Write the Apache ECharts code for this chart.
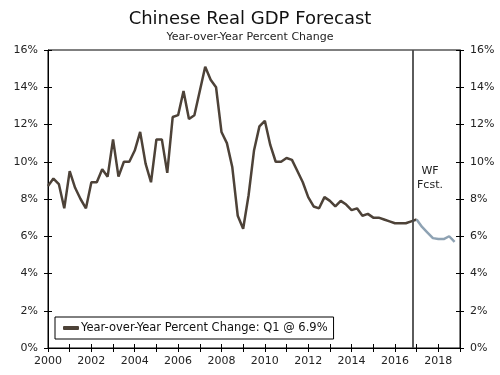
<!DOCTYPE html>
<html>
<head>
<meta charset="utf-8">
<script src="https://cdn.jsdelivr.net/npm/echarts@6/dist/echarts.min.js"></script>
<style>
	html, body { margin: 0; padding: 0; background: #fff; }
	#chart { width: 500px; height: 375px; }
</style>
</head>
<body>
<div id="chart"></div>
<script>
// quarterly yoy % change, 2000Q1 .. 2017Q1
var actualValues = [
	8.7, 9.1, 8.8, 7.5,
	9.5, 8.6, 8.0, 7.5,
	8.9, 8.9, 9.6, 9.2,
	11.2, 9.2, 10.0, 10.0,
	10.6, 11.6, 9.9, 8.9,
	11.2, 11.2, 9.4, 12.4,
	12.5, 13.8, 12.3, 12.5,
	13.8, 15.1, 14.4, 14.0,
	11.6, 11.0, 9.7, 7.1,
	6.4, 8.2, 10.6, 11.9,
	12.2, 10.9, 10.0, 10.0,
	10.2, 10.1, 9.5, 8.9,
	8.1, 7.6, 7.5, 8.1,
	7.9, 7.6, 7.9, 7.7,
	7.4, 7.5, 7.1, 7.2,
	7.0, 7.0, 6.9, 6.8,
	6.7, 6.7, 6.7, 6.8,
	6.9
]
// forecast 2017Q1 .. 2018Q4
var forecastValues = [6.9, 6.5, 6.2, 5.9, 5.85, 5.85, 6.0, 5.7]
var actualStart = 2000
var forecastStart = 2017
var yTicks = [0, 2, 4, 6, 8, 10, 12, 14, 16]
var forecastLineAt = 2016.8
var seriesName = 'Year-over-Year Percent Change: Q1 @ 6.9%'

function toPairs(start, values) {
	return values.map(function (v, i) { return [start + i / 4, v] })
}

var font = 'DejaVu Sans'
var axisColor = '#000'
var labelColor = '#222'

function xAxisDef(inside) {
	return {
		type: 'value',
		min: 2000,
		max: 2019,
		interval: 1,
		position: 'bottom',
		axisLine: { show: !inside, lineStyle: { color: axisColor, width: 1 } },
		axisTick: { show: true, inside: inside, length: 4, lineStyle: { color: axisColor } },
		axisLabel: {
			show: !inside,
			margin: 8,
			color: labelColor,
			fontFamily: font,
			fontSize: 11,
			formatter: function (v) { return v % 2 === 0 ? String(v) : '' }
		},
		splitLine: { show: false }
	}
}

function yAxisDef(side, inside) {
	return {
		type: 'value',
		min: yTicks[0],
		max: yTicks[yTicks.length - 1],
		interval: 2,
		position: side,
		axisLine: { show: !inside, lineStyle: { color: axisColor, width: 1 } },
		axisTick: { show: true, inside: inside, length: 4, lineStyle: { color: axisColor } },
		axisLabel: {
			show: !inside,
			margin: 10,
			color: labelColor,
			fontFamily: font,
			fontSize: 11,
			formatter: '{value}%'
		},
		splitLine: { show: false }
	}
}

var myChart = echarts.init(document.getElementById('chart'), null, { renderer: 'canvas' })
var option = {
	animation: false,
	backgroundColor: '#fff',
	title: {
		text: 'Chinese Real GDP Forecast',
		subtext: 'Year-over-Year Percent Change',
		left: 'center',
		top: 5,
		itemGap: 4,
		textStyle: { color: '#111', fontFamily: font, fontSize: 18, fontWeight: 'normal' },
		subtextStyle: { color: '#222', fontFamily: font, fontSize: 11 }
	},
	grid: {
		left: 48,
		right: 40,
		top: 50,
		bottom: 27,
		show: true,
		borderColor: axisColor,
		borderWidth: 1
	},
	legend: {
		data: [seriesName],
		left: 55,
		top: 317,
		orient: 'horizontal',
		borderColor: '#000',
		borderWidth: 1,
		borderRadius: 0,
		padding: [5, 6, 5, 8],
		itemWidth: 16,
		itemHeight: 4,
		itemGap: 2,
		icon: 'roundRect',
		textStyle: { color: '#111', fontFamily: font, fontSize: 11.5, padding: [0, 0, 0, -3] }
	},
	xAxis: [xAxisDef(false), xAxisDef(true)],
	yAxis: [yAxisDef('left', false), yAxisDef('left', true), yAxisDef('right', false), yAxisDef('right', true)],
	graphic: [{
		type: 'text',
		x: 430,
		y: 164,
		style: {
			text: 'WF\nFcst.',
			fill: '#222',
			font: '11px "DejaVu Sans"',
			align: 'center',
			lineHeight: 14
		}
	}],
	series: [{
		name: seriesName,
		type: 'line',
		xAxisIndex: 0,
		yAxisIndex: 0,
		data: toPairs(actualStart, actualValues),
		symbol: 'none',
		lineStyle: { color: '#4d4238', width: 2.5 },
		itemStyle: { color: '#4d4238' },
		markLine: {
			silent: true,
			symbol: 'none',
			label: { show: false },
			lineStyle: { color: '#4a4a4a', width: 1.8, type: 'solid' },
			data: [{ xAxis: forecastLineAt }]
		}
	}, {
		name: 'Forecast',
		type: 'line',
		xAxisIndex: 0,
		yAxisIndex: 0,
		data: toPairs(forecastStart, forecastValues),
		symbol: 'none',
		lineStyle: { color: '#8ea2b3', width: 2.5 },
		itemStyle: { color: '#8ea2b3' }
	}]
}
myChart.setOption(option)
</script>
</body>
</html>
